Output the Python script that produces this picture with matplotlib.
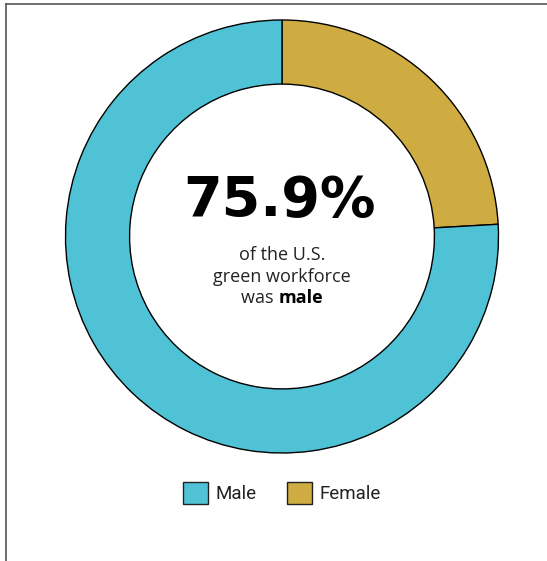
import matplotlib
matplotlib.use("Agg")
import matplotlib.pyplot as plt
from matplotlib.patches import Patch
from matplotlib.lines import Line2D

categories = ["Female", "Male"]
values = [24.1, 75.9]
colors = {"Male": "#4FC3D5", "Female": "#CFAC41"}
headline = "75.9%"
sub_lines = ["of the U.S.", "green workforce"]
last_plain, last_bold = "was ", "male"
legend_order = ["Male", "Female"]

W, H = 547, 561
fig = plt.figure(figsize=(W / 100, H / 100), dpi=100)
fig.patch.set_facecolor("white")

cx, cy, R = 282, 236.5, 216.5
ax = fig.add_axes([(cx - R) / W, (H - cy - R) / H, 2 * R / W, 2 * R / H])
ax.pie(values, colors=[colors[c] for c in categories], startangle=90,
       counterclock=False, radius=1,
       wedgeprops=dict(width=0.296, edgecolor="black", linewidth=1.0))
ax.set_xlim(-1, 1)
ax.set_ylim(-1, 1)
ax.set_aspect("equal")
ax.axis("off")


def py(p):
    return (cy - p) / R


ax.text(-0.01, py(216.5), headline, ha="center", va="baseline", fontsize=40,
        fontweight="bold", family="DejaVu Sans", color="black")
body_font = "Open Sans"
bsize = 13
for t, yb in zip(sub_lines, [260, 281.5]):
    ax.text(0, py(yb), t, ha="center", va="baseline", fontsize=bsize, family=body_font, color="#222222")

fig.canvas.draw()
r = fig.canvas.get_renderer()
t1 = ax.text(0, py(303), last_plain, ha="left", va="baseline", fontsize=bsize, family=body_font, color="#222222")
t2 = ax.text(0, py(303), last_bold, ha="left", va="baseline", fontsize=bsize, family=body_font,
             fontweight="bold", color="black")
w1 = t1.get_window_extent(r).width
w2 = t2.get_window_extent(r).width
tot = w1 + w2
px2data = 1.0 / R
t1.set_x(-tot / 2 * px2data)
t2.set_x((-tot / 2 + w1) * px2data)

handles = [Patch(facecolor=colors[c], edgecolor="#222222", linewidth=1.0, label=c) for c in legend_order]
fig.legend(handles=handles, loc="center", bbox_to_anchor=(282 / W, 1 - 493 / H), ncol=2,
           frameon=False, prop=dict(family="Roboto", size=13.5), handlelength=1.36,
           handleheight=1.36, handletextpad=0.4, columnspacing=1.6, labelcolor="#222222")

lc = "#555555"
fig.add_artist(Line2D([6 / W, 1], [1 - 3.5 / H, 1 - 3.5 / H], transform=fig.transFigure, color=lc, linewidth=1.2))
fig.add_artist(Line2D([6 / W, 6 / W], [0, 1 - 3.5 / H], transform=fig.transFigure, color=lc, linewidth=1.2))

fig.savefig("out.png", dpi=100)
